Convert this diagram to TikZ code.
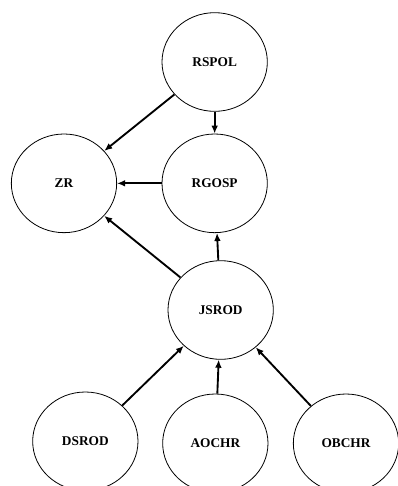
\documentclass[tikz,border=0pt]{standalone}
\usepackage{fontspec}
\setmainfont{Liberation Serif}
\usetikzlibrary{positioning,shapes.geometric,arrows.meta}

\begin{document}
\begin{tikzpicture}[x=1pt, y=1pt, node distance=95pt,
    circ/.style={draw, ellipse, line width=.6pt, minimum width=79pt, minimum height=74pt, inner sep=0pt, font=\bfseries},
    link/.style={-{Latex[length=6pt,width=5pt]}, line width=1.4pt}]
  \useasboundingbox (0,0) rectangle (298.5,-364.5);

  \node (rspol) [circ] at (161,-46.5) {RSPOL};
  \node (rgosp) [circ, below of=rspol, yshift=4pt] {RGOSP};
  \node (zr) [circ, left of=rgosp, xshift=-18pt] {ZR};
  \node (jsrod) [circ, below of=rgosp, xshift=4.5pt] {JSROD};
  \node (aochr) [circ, below of=jsrod, xshift=-4pt, yshift=-5pt] {AOCHR};
  \node (dsrod) [circ, left of=aochr, xshift=-2.5pt, yshift=1.5pt] {DSROD};
  \node (obchr) [circ, right of=aochr, xshift=3pt] {OBCHR};

  \draw [link] (rspol) -- (zr);
  \draw [link] (rspol) -- (rgosp);
  \draw [link] (rgosp) -- (zr);
  \draw [link] (jsrod) -- (zr);
  \draw [link] (jsrod) -- (rgosp);
  \draw [link] (dsrod) -- (jsrod);
  \draw [link] (aochr) -- (jsrod);
  \draw [link] (obchr) -- (jsrod);
\end{tikzpicture}
\end{document}
